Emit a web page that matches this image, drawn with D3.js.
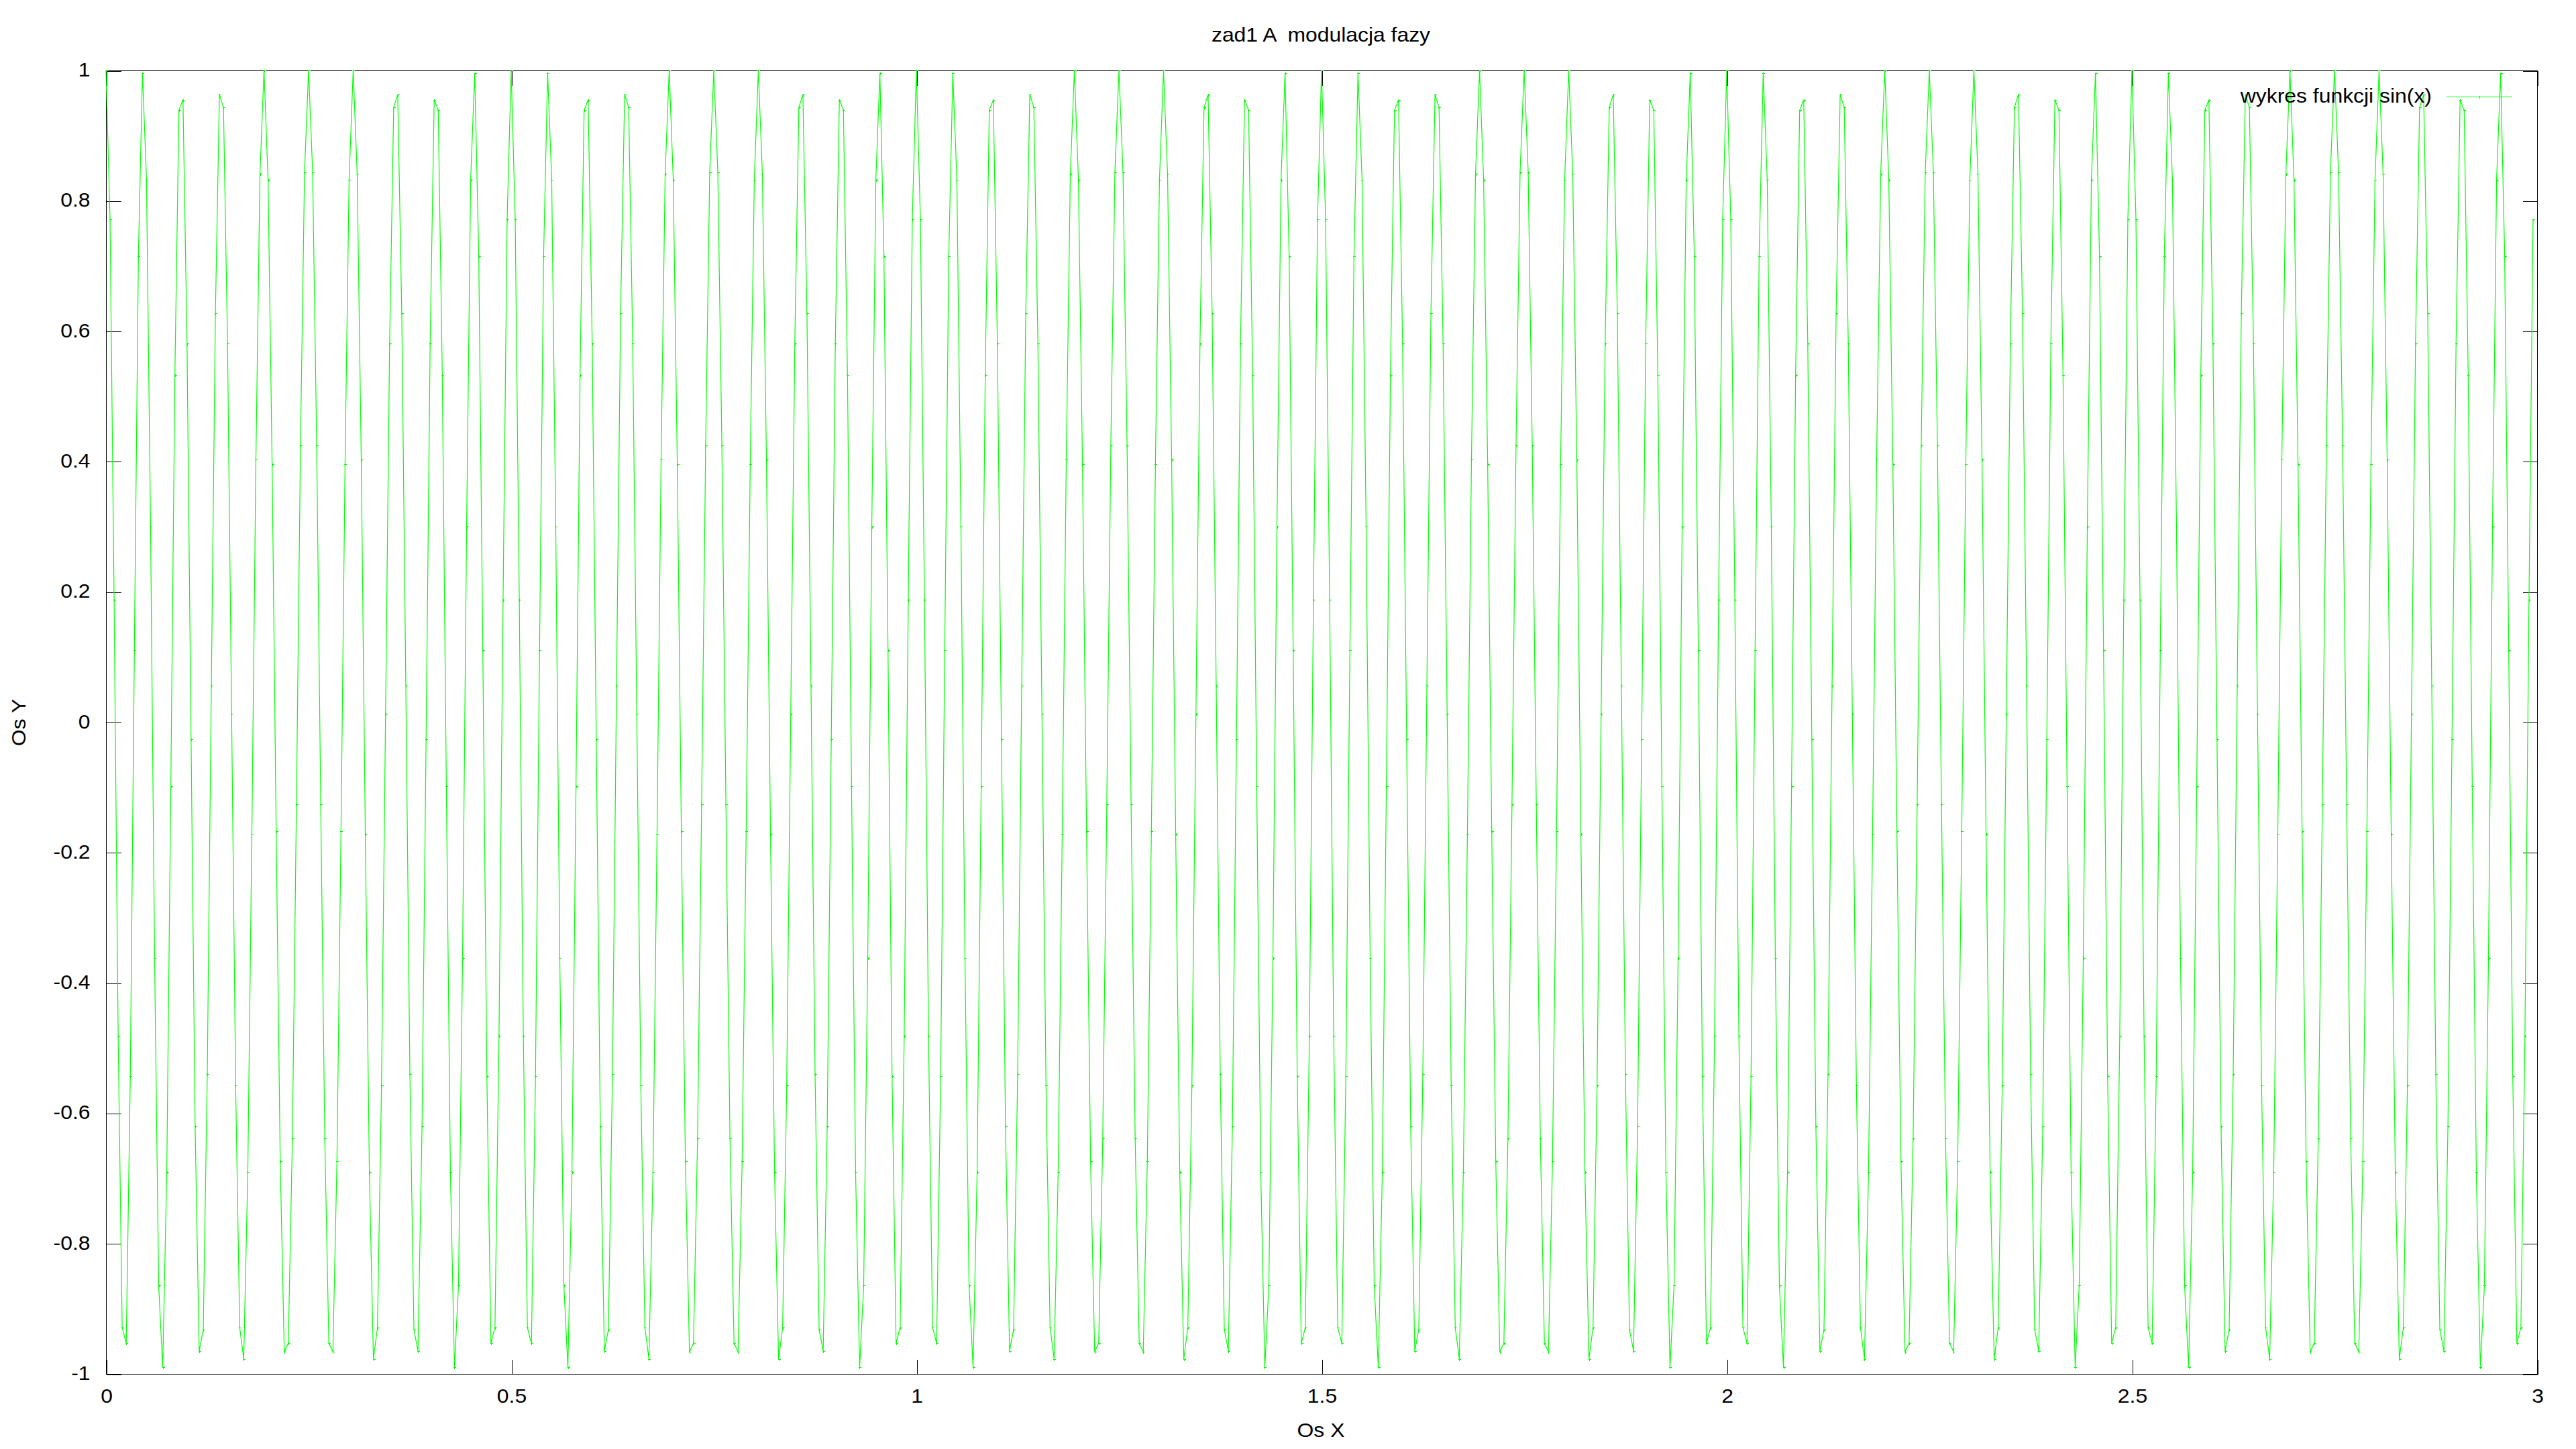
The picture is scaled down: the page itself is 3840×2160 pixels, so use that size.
<!DOCTYPE html>
<html><head><meta charset="utf-8">
<script src="https://cdn.jsdelivr.net/npm/d3@7"></script>
<style>
html,body{margin:0;padding:0;background:#fff;}
svg{display:block;background:#fff;}
text{font-family:"Liberation Sans",Arial,Helvetica,sans-serif;fill:#000;}
</style></head><body>
<svg id="chart" width="3840" height="2160"></svg>
<script>
const chartTitle = "zad1 A  modulacja fazy";
const xAxisLabel = "Os X";
const yAxisLabel = "Os Y";
const seriesName = "wykres funkcji sin(x)";
const sampleStep = 0.005;
const xTicks = [0, 0.5, 1, 1.5, 2, 2.5, 3];
const xTickLabels = ["0", "0.5", "1", "1.5", "2", "2.5", "3"];
const yTicks = [-1, -0.8, -0.6, -0.4, -0.2, 0, 0.2, 0.4, 0.6, 0.8, 1];
const yTickLabels = ["-1", "-0.8", "-0.6", "-0.4", "-0.2", "0", "0.2", "0.4", "0.6", "0.8", "1"];
const signalValues = [
1.000,0.771,0.188,-0.481,-0.929,-0.953,-0.543,0.111,0.715,0.996,0.832,0.300,-0.362,-0.864,-0.990,-0.690,-0.098,0.533,0.939,0.955,0.581,-0.026,-0.620,-0.965,-0.932,-0.540,0.056,0.627,0.963,0.943,0.581,0.013,-0.557,-0.929,-0.977,-0.690,-0.171,0.403,0.841,1.000,0.832,0.396,-0.167,-0.674,-0.966,-0.953,-0.639,-0.126,0.425,0.844,
1.000,0.844,0.425,-0.126,-0.639,-0.953,-0.966,-0.674,-0.167,0.396,0.832,1.000,0.841,0.403,-0.171,-0.690,-0.977,-0.929,-0.557,0.013,0.581,0.943,0.963,0.627,0.056,-0.540,-0.932,-0.965,-0.620,-0.026,0.581,0.955,0.939,0.533,-0.098,-0.690,-0.990,-0.864,-0.362,0.300,0.832,0.996,0.715,0.111,-0.543,-0.953,-0.929,-0.481,0.188,0.771,
1.000,0.771,0.188,-0.481,-0.929,-0.953,-0.543,0.111,0.715,0.996,0.832,0.300,-0.362,-0.864,-0.990,-0.690,-0.098,0.533,0.939,0.955,0.581,-0.026,-0.620,-0.965,-0.932,-0.540,0.056,0.627,0.963,0.943,0.581,0.013,-0.557,-0.929,-0.977,-0.690,-0.171,0.403,0.841,1.000,0.832,0.396,-0.167,-0.674,-0.966,-0.953,-0.639,-0.126,0.425,0.844,
1.000,0.844,0.425,-0.126,-0.639,-0.953,-0.966,-0.674,-0.167,0.396,0.832,1.000,0.841,0.403,-0.171,-0.690,-0.977,-0.929,-0.557,0.013,0.581,0.943,0.963,0.627,0.056,-0.540,-0.932,-0.965,-0.620,-0.026,0.581,0.955,0.939,0.533,-0.098,-0.690,-0.990,-0.864,-0.362,0.300,0.832,0.996,0.715,0.111,-0.543,-0.953,-0.929,-0.481,0.188,0.771,
1.000,0.771,0.188,-0.481,-0.929,-0.953,-0.543,0.111,0.715,0.996,0.832,0.300,-0.362,-0.864,-0.990,-0.690,-0.098,0.533,0.939,0.955,0.581,-0.026,-0.620,-0.965,-0.932,-0.540,0.056,0.627,0.963,0.943,0.581,0.013,-0.557,-0.929,-0.977,-0.690,-0.171,0.403,0.841,1.000,0.832,0.396,-0.167,-0.674,-0.966,-0.953,-0.639,-0.126,0.425,0.844,
1.000,0.844,0.425,-0.126,-0.639,-0.953,-0.966,-0.674,-0.167,0.396,0.832,1.000,0.841,0.403,-0.171,-0.690,-0.977,-0.929,-0.557,0.013,0.581,0.943,0.963,0.627,0.056,-0.540,-0.932,-0.965,-0.620,-0.026,0.581,0.955,0.939,0.533,-0.098,-0.690,-0.990,-0.864,-0.362,0.300,0.832,0.996,0.715,0.111,-0.543,-0.953,-0.929,-0.481,0.188,0.771,
1.000,0.771,0.188,-0.481,-0.929,-0.953,-0.543,0.111,0.715,0.996,0.832,0.300,-0.362,-0.864,-0.990,-0.690,-0.098,0.533,0.939,0.955,0.581,-0.026,-0.620,-0.965,-0.932,-0.540,0.056,0.627,0.963,0.943,0.581,0.013,-0.557,-0.929,-0.977,-0.690,-0.171,0.403,0.841,1.000,0.832,0.396,-0.167,-0.674,-0.966,-0.953,-0.639,-0.126,0.425,0.844,
1.000,0.844,0.425,-0.126,-0.639,-0.953,-0.966,-0.674,-0.167,0.396,0.832,1.000,0.841,0.403,-0.171,-0.690,-0.977,-0.929,-0.557,0.013,0.581,0.943,0.963,0.627,0.056,-0.540,-0.932,-0.965,-0.620,-0.026,0.581,0.955,0.939,0.533,-0.098,-0.690,-0.990,-0.864,-0.362,0.300,0.832,0.996,0.715,0.111,-0.543,-0.953,-0.929,-0.481,0.188,0.771,
1.000,0.771,0.188,-0.481,-0.929,-0.953,-0.543,0.111,0.715,0.996,0.832,0.300,-0.362,-0.864,-0.990,-0.690,-0.098,0.533,0.939,0.955,0.581,-0.026,-0.620,-0.965,-0.932,-0.540,0.056,0.627,0.963,0.943,0.581,0.013,-0.557,-0.929,-0.977,-0.690,-0.171,0.403,0.841,1.000,0.832,0.396,-0.167,-0.674,-0.966,-0.953,-0.639,-0.126,0.425,0.844,
1.000,0.844,0.425,-0.126,-0.639,-0.953,-0.966,-0.674,-0.167,0.396,0.832,1.000,0.841,0.403,-0.171,-0.690,-0.977,-0.929,-0.557,0.013,0.581,0.943,0.963,0.627,0.056,-0.540,-0.932,-0.965,-0.620,-0.026,0.581,0.955,0.939,0.533,-0.098,-0.690,-0.990,-0.864,-0.362,0.300,0.832,0.996,0.715,0.111,-0.543,-0.953,-0.929,-0.481,0.188,0.771,
1.000,0.771,0.188,-0.481,-0.929,-0.953,-0.543,0.111,0.715,0.996,0.832,0.300,-0.362,-0.864,-0.990,-0.690,-0.098,0.533,0.939,0.955,0.581,-0.026,-0.620,-0.965,-0.932,-0.540,0.056,0.627,0.963,0.943,0.581,0.013,-0.557,-0.929,-0.977,-0.690,-0.171,0.403,0.841,1.000,0.832,0.396,-0.167,-0.674,-0.966,-0.953,-0.639,-0.126,0.425,0.844,
1.000,0.844,0.425,-0.126,-0.639,-0.953,-0.966,-0.674,-0.167,0.396,0.832,1.000,0.841,0.403,-0.171,-0.690,-0.977,-0.929,-0.557,0.013,0.581,0.943,0.963,0.627,0.056,-0.540,-0.932,-0.965,-0.620,-0.026,0.581,0.955,0.939,0.533,-0.098,-0.690,-0.990,-0.864,-0.362,0.300,0.832,0.996,0.715,0.111,-0.543,-0.953,-0.929,-0.481,0.188,0.771
];

const FS = 29, SX = 1.1;
const plotLeft = 158, plotRight = 3782, plotTop = 105, plotBottom = 2048;
const svg = d3.select("#chart");
const x = d3.scaleLinear().domain([0, 3]).range([plotLeft, plotRight]);
const y = d3.scaleLinear().domain([-1, 1]).range([plotBottom, plotTop]);

function styleAxis(g) {
  g.attr("font-size", FS).attr("font-family", '"Liberation Sans",Arial,sans-serif');
  g.select(".domain").remove();
  g.selectAll(".tick line").attr("stroke", "#000").attr("stroke-width", 1).attr("shape-rendering", "crispEdges");
}

// bottom axis with labels
const gB = svg.append("g").attr("transform", `translate(0.5,${plotBottom + 0.5})`)
  .call(d3.axisBottom(x).tickValues(xTicks).tickFormat((d, i) => xTickLabels[i]).tickSizeInner(-22).tickSizeOuter(0));
styleAxis(gB);
gB.selectAll(".tick text").attr("y", 43).attr("dy", 0).attr("text-anchor", "middle")
  .attr("transform", `scale(${SX},1)`).attr("fill", "#000");

// left axis with labels
const gL = svg.append("g").attr("transform", `translate(${plotLeft + 0.5},0.5)`)
  .call(d3.axisLeft(y).tickValues(yTicks).tickFormat((d, i) => yTickLabels[i]).tickSizeInner(-22).tickSizeOuter(0));
styleAxis(gL);
gL.selectAll(".tick text").attr("x", -24 / SX).attr("dy", 8).attr("text-anchor", "end")
  .attr("transform", `scale(${SX},1)`).attr("fill", "#000");

// mirrored ticks
const gR = svg.append("g").attr("transform", `translate(${plotRight + 0.5},0.5)`)
  .call(d3.axisRight(y).tickValues(yTicks).tickFormat("").tickSizeInner(-22).tickSizeOuter(0));
styleAxis(gR);
const gT = svg.append("g").attr("transform", `translate(0.5,${plotTop + 0.5})`)
  .call(d3.axisTop(x).tickValues(xTicks).tickFormat("").tickSizeInner(-22).tickSizeOuter(0));
styleAxis(gT);

// border
svg.append("rect").attr("x", plotLeft + 0.5).attr("y", plotTop + 0.5)
  .attr("width", plotRight - plotLeft).attr("height", plotBottom - plotTop)
  .attr("fill", "none").attr("stroke", "#000").attr("stroke-width", 1).attr("shape-rendering", "crispEdges");

// series
const pts = signalValues.map((v, i) => [i * sampleStep, v]);
const line = d3.line().x(d => x(d[0])).y(d => y(d[1]));
svg.append("path").datum(pts).attr("d", line)
  .attr("fill", "none").attr("stroke", "#00ff00").attr("stroke-width", 1.2);

const plusPath = "M-2,0H2M0,-2V2";
svg.append("g").selectAll("path").data(pts).join("path")
  .attr("transform", d => `translate(${Math.round(x(d[0])) + 0.5},${Math.round(y(d[1])) + 0.5})`)
  .attr("d", plusPath).attr("stroke", "#00ff00").attr("stroke-width", 1).attr("fill", "none")
  .attr("shape-rendering", "crispEdges");

// title
svg.append("text").attr("transform", `translate(1969,62) scale(${SX},1)`)
  .attr("text-anchor", "middle").attr("font-size", FS).style("white-space", "pre")
  .text(chartTitle);

// axis labels
svg.append("text").attr("transform", `translate(1969,2142) scale(${SX},1)`)
  .attr("text-anchor", "middle").attr("font-size", FS).text(xAxisLabel);
svg.append("text").attr("transform", `translate(38,1077) rotate(-90) scale(${SX},1)`)
  .attr("text-anchor", "middle").attr("font-size", FS).text(yAxisLabel);

// legend
svg.append("text").attr("transform", `translate(3625,153) scale(${SX},1)`)
  .attr("text-anchor", "end").attr("font-size", FS).text(seriesName);
svg.append("line").attr("x1", 3647).attr("x2", 3745).attr("y1", 144.5).attr("y2", 144.5)
  .attr("stroke", "#00ff00").attr("stroke-width", 1.2);
svg.append("path").attr("transform", "translate(3696.5,144.5)").attr("d", plusPath)
  .attr("stroke", "#00ff00").attr("stroke-width", 1).attr("fill", "none").attr("shape-rendering", "crispEdges");
</script>
</body></html>
